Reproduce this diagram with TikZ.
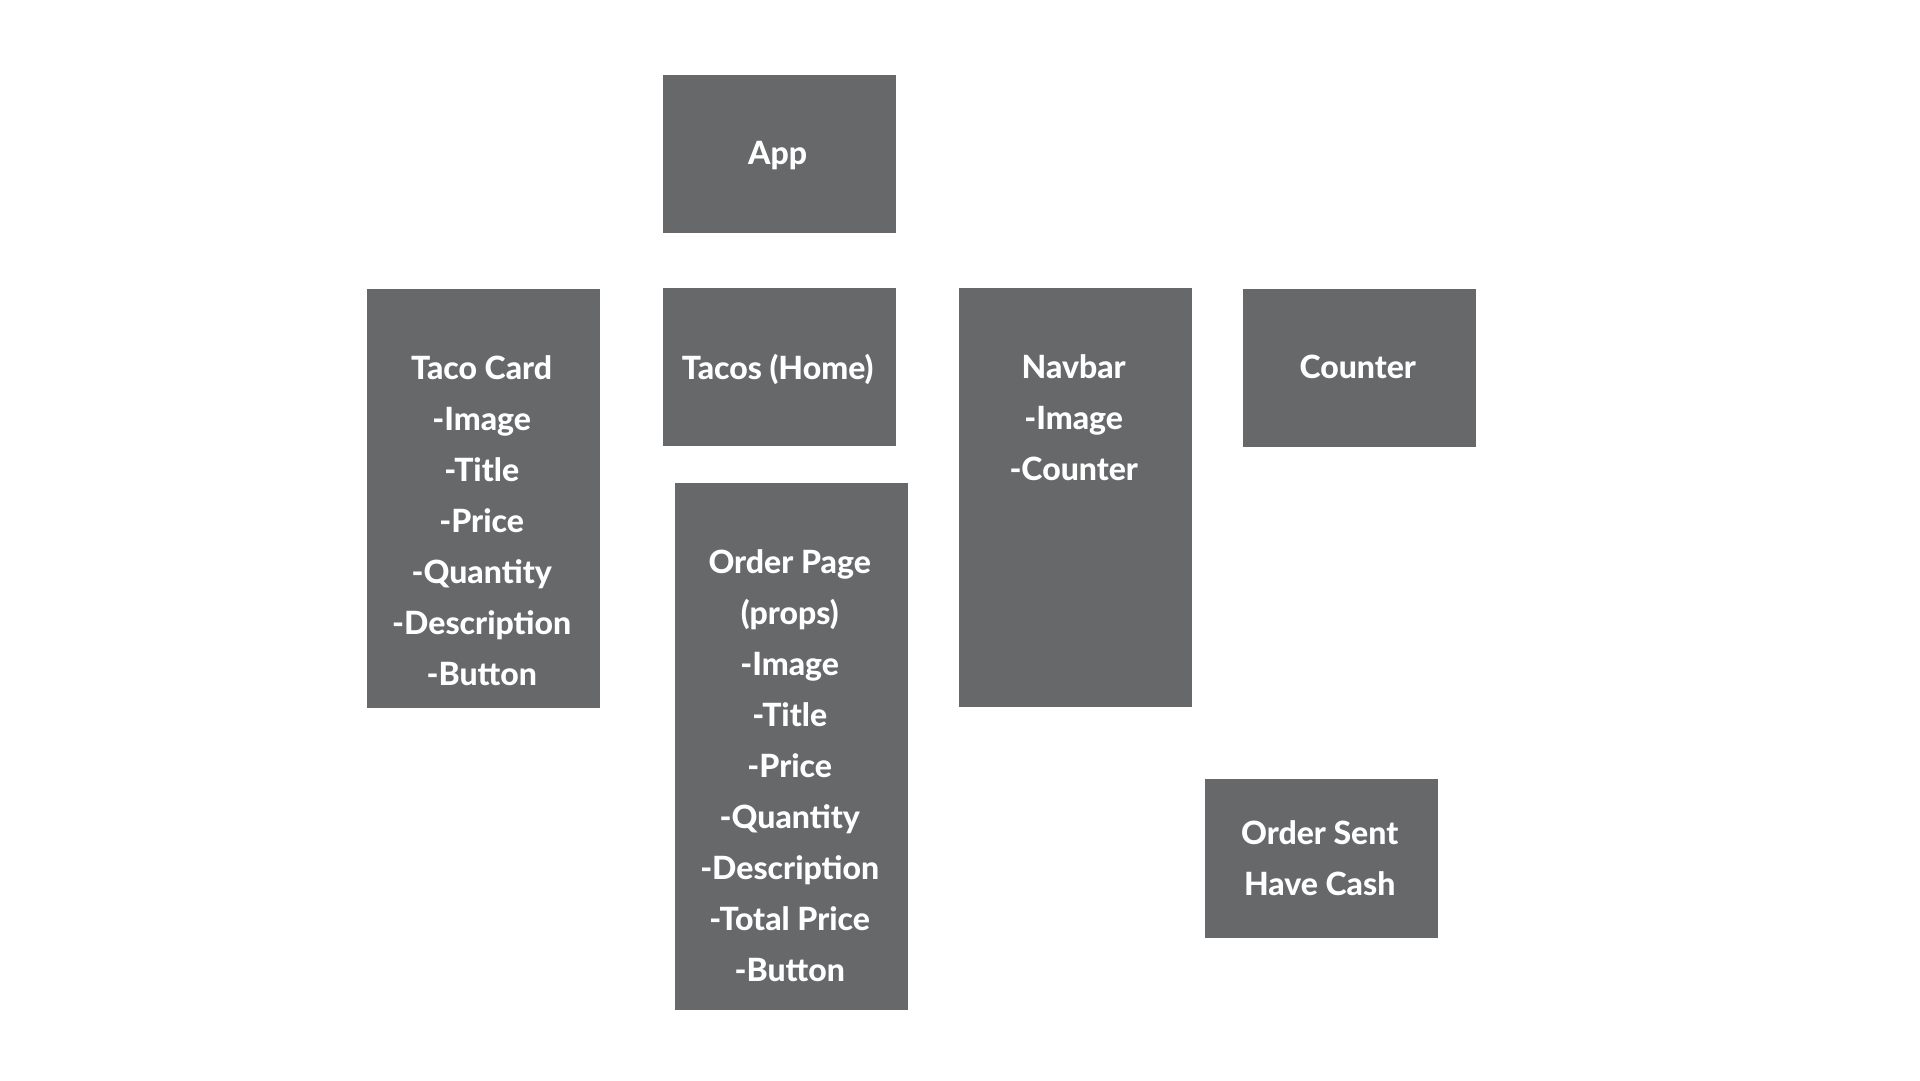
\documentclass[tikz,border=0pt]{standalone}
\usepackage{fontspec}
\setmainfont{Lato}[UprightFont=* Heavy]
\definecolor{boxgray}{RGB}{103,104,106}
\begin{document}
\begin{tikzpicture}[x=1pt,y=-1pt,
  card/.style={fill=boxgray,draw=none,minimum width=233pt,inner sep=0pt,anchor=north west},
  words/.style={text=white,align=center,font=\fontsize{32}{51.1}\selectfont,inner sep=0pt,anchor=north}]
\useasboundingbox (0,0) rectangle (1920,1080);
\fill[white] (0,0) rectangle (1920,1080);
\node[card,minimum height=158pt] (app) at (663,75) {};
\node[card,minimum height=419pt] (taco) at (367,289) {};
\node[card,minimum height=158pt] (home) at (663,288) {};
\node[card,minimum height=419pt] (nav) at (959,288) {};
\node[card,minimum height=158pt] (counter) at (1243,289) {};
\node[card,minimum height=527pt] (order) at (675,483) {};
\node[card,minimum height=159pt] (sent) at (1205,779) {};
\node[words] (appt) at ([xshift=-2pt,yshift=-66pt]app.north) {App};
\node[words] (tacot) at ([xshift=-2pt,yshift=-66pt]taco.north) {Taco Card\\-Image\\-Title\\-Price\\-Quantity\\-Description\\-Button};
\node[words] (homet) at ([xshift=-2pt,yshift=-66pt]home.north) {Tacos (Home)};
\node[words] (navt) at ([xshift=-2pt,yshift=-66pt]nav.north) {Navbar\\-Image\\-Counter};
\node[words] (countert) at ([xshift=-2pt,yshift=-66pt]counter.north) {Counter};
\node[words] (ordert) at ([xshift=-2pt,yshift=-66pt]order.north) {Order Page\\(props)\\-Image\\-Title\\-Price\\-Quantity\\-Description\\-Total Price\\-Button};
\node[words] (sentt) at ([xshift=-2pt,yshift=-41pt]sent.north) {Order Sent\\Have Cash};
\end{tikzpicture}
\end{document}
